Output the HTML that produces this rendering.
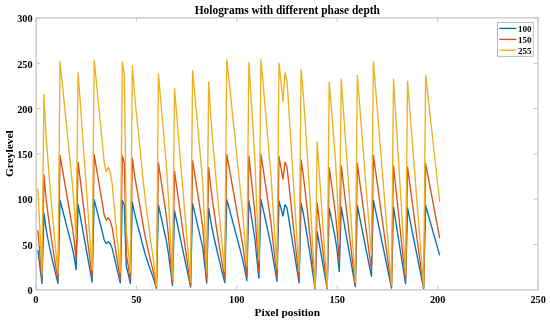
<!DOCTYPE html>
<html><head><meta charset="utf-8"><style>
html,body{margin:0;padding:0;background:#fff;}
body{width:550px;height:324px;overflow:hidden;}
svg{display:block;}
text{font-family:"Liberation Serif",serif;font-weight:bold;fill:#000;filter:grayscale(1);}
</style></head><body>
<svg width="550" height="324" viewBox="0 0 550 324">
<rect x="0" y="0" width="550" height="324" fill="#fff"/>
<g fill="none" stroke-linejoin="round" stroke-linecap="butt" stroke-width="1.35">
<path stroke="#0072BD" d="M37.91,250.12 L39.92,266.43 L41.93,283.46 L43.94,213.15 L45.95,228.37 L47.95,239.25 L49.96,249.03 L51.97,258.27 L53.98,266.97 L55.99,275.39 L58.00,283.46 L60.01,200.20 L62.02,207.99 L64.03,215.78 L66.03,223.57 L68.04,231.36 L70.05,239.15 L72.06,246.95 L74.07,256.28 L76.08,269.60 L78.09,204.73 L80.10,215.33 L82.11,226.38 L84.12,237.52 L86.12,248.67 L88.13,259.81 L90.14,270.86 L92.15,282.01 L94.16,199.65 L96.17,207.63 L98.18,215.60 L100.19,223.57 L102.20,231.63 L104.21,239.97 L106.22,243.50 L108.22,241.78 L110.23,243.68 L112.24,248.58 L114.25,257.18 L116.26,265.79 L118.27,274.40 L120.28,282.91 L122.29,200.47 L124.30,205.27 L126.31,266.33 L128.31,274.40 L130.32,283.28 L132.33,202.01 L134.34,212.16 L136.35,220.49 L138.36,228.19 L140.37,235.53 L142.38,244.05 L144.39,251.30 L146.39,258.09 L148.40,263.98 L150.41,270.05 L152.42,275.30 L154.43,281.46 L156.44,288.35 L158.45,205.27 L160.46,214.24 L162.47,223.21 L164.48,232.27 L166.48,241.42 L168.49,254.01 L170.50,269.87 L172.51,285.54 L174.52,210.89 L176.53,220.40 L178.54,229.91 L180.55,239.43 L182.56,248.94 L184.57,258.36 L186.57,267.87 L188.58,277.39 L190.59,286.90 L192.60,203.73 L194.61,212.16 L196.62,220.94 L198.63,229.64 L200.64,238.43 L202.65,247.22 L204.66,264.43 L206.66,283.19 L208.67,208.26 L210.68,220.94 L212.69,231.09 L214.70,240.51 L216.71,249.48 L218.72,258.09 L220.73,266.43 L222.74,274.58 L224.75,282.55 L226.75,199.56 L228.76,206.72 L230.77,214.33 L232.78,221.94 L234.79,229.55 L236.80,237.16 L238.81,244.77 L240.82,252.38 L242.83,260.36 L244.84,269.87 L246.84,280.74 L248.85,200.65 L250.86,213.06 L252.87,225.93 L254.88,238.79 L256.89,259.00 L258.90,278.20 L260.91,199.47 L262.92,208.08 L264.93,217.32 L266.94,226.56 L268.94,235.80 L270.95,245.04 L272.96,257.46 L274.97,269.51 L276.98,281.46 L278.99,200.92 L281.00,208.44 L283.01,215.96 L285.02,204.64 L287.02,208.08 L289.03,220.49 L291.04,232.99 L293.05,245.41 L295.06,257.82 L297.07,270.32 L299.08,282.73 L301.09,203.28 L303.10,212.43 L305.11,223.66 L307.11,235.71 L309.12,248.49 L311.13,261.62 L313.14,275.30 L315.15,289.26 L317.16,231.73 L319.17,243.23 L321.18,254.65 L323.19,266.15 L325.20,277.57 L327.20,289.08 L329.21,208.26 L331.22,217.95 L333.23,227.92 L335.24,237.89 L337.25,251.75 L339.26,271.68 L341.27,207.17 L343.28,218.50 L345.29,229.91 L347.29,241.24 L349.30,252.65 L351.31,263.98 L353.32,275.39 L355.33,286.72 L357.34,205.72 L359.35,215.78 L361.36,225.84 L363.37,235.89 L365.38,246.04 L367.38,256.10 L369.39,266.15 L371.40,276.21 L373.41,200.20 L375.42,209.98 L377.43,219.68 L379.44,229.46 L381.45,239.25 L383.46,248.94 L385.47,258.72 L387.47,268.51 L389.48,278.20 L391.49,287.99 L393.50,207.17 L395.51,219.95 L397.52,232.72 L399.53,245.50 L401.54,258.27 L403.55,271.05 L405.56,283.82 L407.56,207.99 L409.57,218.04 L411.58,228.19 L413.59,238.25 L415.60,248.31 L417.61,258.45 L419.62,268.51 L421.63,278.66 L423.64,288.71 L425.65,205.63 L427.65,212.70 L429.66,219.86 L431.67,226.92 L433.68,234.08 L435.69,241.15 L437.70,248.31 L439.71,255.37"/>
<path stroke="#D95319" d="M37.91,230.28 L39.92,254.74 L41.93,280.29 L43.94,174.83 L45.95,197.66 L47.95,213.97 L49.96,228.65 L51.97,242.51 L53.98,255.55 L55.99,268.19 L58.00,280.29 L60.01,155.39 L62.02,167.08 L64.03,178.77 L66.03,190.46 L68.04,202.14 L70.05,213.83 L72.06,225.52 L74.07,239.52 L76.08,259.49 L78.09,162.19 L80.10,178.09 L82.11,194.67 L84.12,211.39 L86.12,228.10 L88.13,244.82 L90.14,261.40 L92.15,278.11 L94.16,154.58 L96.17,166.54 L98.18,178.50 L100.19,190.46 L102.20,202.55 L104.21,215.06 L106.22,220.36 L108.22,217.77 L110.23,220.63 L112.24,227.97 L114.25,240.88 L116.26,253.79 L118.27,266.70 L120.28,279.47 L122.29,155.80 L124.30,163.01 L126.31,254.60 L128.31,266.70 L130.32,280.02 L132.33,158.11 L134.34,173.33 L136.35,185.84 L138.36,197.39 L140.37,208.40 L142.38,221.17 L144.39,232.04 L146.39,242.24 L148.40,251.07 L150.41,260.17 L152.42,268.06 L154.43,277.30 L156.44,287.63 L158.45,163.01 L160.46,176.46 L162.47,189.91 L164.48,203.50 L166.48,217.23 L168.49,236.12 L170.50,259.90 L172.51,283.41 L174.52,171.43 L176.53,185.70 L178.54,199.97 L180.55,214.24 L182.56,228.51 L184.57,242.64 L186.57,256.91 L188.58,271.18 L190.59,285.45 L192.60,160.70 L194.61,173.33 L196.62,186.52 L198.63,199.56 L200.64,212.74 L202.65,225.93 L204.66,251.75 L206.66,279.88 L208.67,167.49 L210.68,186.52 L212.69,201.74 L214.70,215.87 L216.71,229.32 L218.72,242.24 L220.73,254.74 L222.74,266.97 L224.75,278.93 L226.75,154.44 L228.76,165.18 L230.77,176.60 L232.78,188.01 L234.79,199.43 L236.80,210.84 L238.81,222.26 L240.82,233.67 L242.83,245.63 L244.84,259.90 L246.84,276.21 L248.85,156.07 L250.86,174.69 L252.87,193.99 L254.88,213.29 L256.89,243.59 L258.90,272.40 L260.91,154.31 L262.92,167.22 L264.93,181.08 L266.94,194.94 L268.94,208.80 L270.95,222.67 L272.96,241.28 L274.97,259.36 L276.98,277.30 L278.99,156.48 L281.00,167.76 L283.01,179.04 L285.02,162.05 L287.02,167.22 L289.03,185.84 L291.04,204.59 L293.05,223.21 L295.06,241.83 L297.07,260.58 L299.08,279.20 L301.09,160.02 L303.10,173.74 L305.11,190.59 L307.11,208.67 L309.12,227.83 L311.13,247.54 L313.14,268.06 L315.15,288.98 L317.16,202.69 L319.17,219.95 L321.18,237.07 L323.19,254.33 L325.20,271.45 L327.20,288.71 L329.21,167.49 L331.22,182.03 L333.23,196.98 L335.24,211.93 L337.25,232.72 L339.26,262.62 L341.27,165.86 L343.28,182.85 L345.29,199.97 L347.29,216.96 L349.30,234.08 L351.31,251.07 L353.32,268.19 L355.33,285.18 L357.34,163.68 L359.35,178.77 L361.36,193.85 L363.37,208.94 L365.38,224.16 L367.38,239.25 L369.39,254.33 L371.40,269.42 L373.41,155.39 L375.42,170.07 L377.43,184.61 L379.44,199.29 L381.45,213.97 L383.46,228.51 L385.47,243.19 L387.47,257.86 L389.48,272.40 L391.49,287.08 L393.50,165.86 L395.51,185.02 L397.52,204.18 L399.53,223.34 L401.54,242.51 L403.55,261.67 L405.56,280.83 L407.56,167.08 L409.57,182.17 L411.58,197.39 L413.59,212.47 L415.60,227.56 L417.61,242.78 L419.62,257.86 L421.63,273.08 L423.64,288.17 L425.65,163.55 L427.65,174.15 L429.66,184.89 L431.67,195.49 L433.68,206.22 L435.69,216.82 L437.70,227.56 L439.71,238.16"/>
<path stroke="#EDB120" d="M37.91,188.61 L39.92,230.19 L41.93,273.63 L43.94,94.35 L45.95,133.16 L47.95,160.89 L49.96,185.84 L51.97,209.40 L53.98,231.58 L55.99,253.07 L58.00,273.63 L60.01,61.31 L62.02,81.18 L64.03,101.05 L66.03,120.92 L68.04,140.79 L70.05,160.65 L72.06,180.52 L74.07,204.32 L76.08,238.28 L78.09,72.86 L80.10,99.89 L82.11,128.08 L84.12,156.50 L86.12,184.91 L88.13,213.33 L90.14,241.51 L92.15,269.93 L94.16,59.93 L96.17,80.26 L98.18,100.59 L100.19,120.92 L102.20,141.48 L104.21,162.73 L106.22,171.74 L108.22,167.35 L110.23,172.21 L112.24,184.68 L114.25,206.63 L116.26,228.58 L118.27,250.52 L120.28,272.24 L122.29,62.00 L124.30,74.25 L126.31,229.96 L128.31,250.52 L130.32,273.17 L132.33,65.93 L134.34,91.81 L136.35,113.06 L138.36,132.70 L140.37,151.41 L142.38,173.13 L144.39,191.61 L146.39,208.94 L148.40,223.96 L150.41,239.44 L152.42,252.84 L154.43,268.55 L156.44,286.10 L158.45,74.25 L160.46,97.12 L162.47,119.99 L164.48,143.10 L166.48,166.43 L168.49,198.54 L170.50,238.97 L172.51,278.94 L174.52,88.57 L176.53,112.83 L178.54,137.09 L180.55,161.35 L182.56,185.61 L184.57,209.63 L186.57,233.89 L188.58,258.15 L190.59,282.41 L192.60,70.32 L194.61,91.81 L196.62,114.22 L198.63,136.40 L200.64,158.81 L202.65,181.22 L204.66,225.11 L206.66,272.93 L208.67,81.87 L210.68,114.22 L212.69,140.09 L214.70,164.12 L216.71,186.99 L218.72,208.94 L220.73,230.19 L222.74,250.99 L224.75,271.32 L226.75,59.69 L228.76,77.95 L230.77,97.35 L232.78,116.76 L234.79,136.17 L236.80,155.57 L238.81,174.98 L240.82,194.38 L242.83,214.72 L244.84,238.97 L246.84,266.70 L248.85,62.47 L250.86,94.12 L252.87,126.92 L254.88,159.73 L256.89,211.25 L258.90,260.23 L260.91,59.46 L262.92,81.41 L264.93,104.98 L266.94,128.54 L268.94,152.11 L270.95,175.67 L272.96,207.32 L274.97,238.05 L276.98,268.55 L278.99,63.16 L281.00,82.34 L283.01,101.51 L285.02,72.63 L287.02,81.41 L289.03,113.06 L291.04,144.94 L293.05,176.60 L295.06,208.25 L297.07,240.13 L299.08,271.78 L301.09,69.17 L303.10,92.50 L305.11,121.15 L307.11,151.88 L309.12,184.45 L311.13,217.95 L313.14,252.84 L315.15,288.41 L317.16,141.71 L319.17,171.05 L321.18,200.16 L323.19,229.50 L325.20,258.61 L327.20,287.95 L329.21,81.87 L331.22,106.59 L333.23,132.01 L335.24,157.42 L337.25,192.77 L339.26,243.59 L341.27,79.10 L343.28,107.98 L345.29,137.09 L347.29,165.97 L349.30,195.08 L351.31,223.96 L353.32,253.07 L355.33,281.94 L357.34,75.40 L359.35,101.05 L361.36,126.69 L363.37,152.34 L365.38,178.21 L367.38,203.86 L369.39,229.50 L371.40,255.15 L373.41,61.31 L375.42,86.26 L377.43,110.98 L379.44,135.93 L381.45,160.89 L383.46,185.61 L385.47,210.56 L387.47,235.51 L389.48,260.23 L391.49,285.18 L393.50,79.10 L395.51,111.68 L397.52,144.25 L399.53,176.83 L401.54,209.40 L403.55,241.98 L405.56,274.55 L407.56,81.18 L409.57,106.82 L411.58,132.70 L413.59,158.34 L415.60,183.99 L417.61,209.86 L419.62,235.51 L421.63,261.38 L423.64,287.03 L425.65,75.17 L427.65,93.19 L429.66,111.44 L431.67,129.47 L433.68,147.72 L435.69,165.74 L437.70,183.99 L439.71,202.01"/>
</g>
<rect x="36.2" y="17.8" width="501.9" height="272.0" fill="none" stroke="#c6c6c6" stroke-width="1.3"/>
<path d="M35.90,289.8 V285.3 M35.90,17.8 V22.3 M136.35,289.8 V285.3 M136.35,17.8 V22.3 M236.80,289.8 V285.3 M236.80,17.8 V22.3 M337.25,289.8 V285.3 M337.25,17.8 V22.3 M437.70,289.8 V285.3 M437.70,17.8 V22.3 M538.15,289.8 V285.3 M538.15,17.8 V22.3 M36.2,289.80 H40.7 M538.1,289.80 H533.6 M36.2,244.50 H40.7 M538.1,244.50 H533.6 M36.2,199.20 H40.7 M538.1,199.20 H533.6 M36.2,153.90 H40.7 M538.1,153.90 H533.6 M36.2,108.60 H40.7 M538.1,108.60 H533.6 M36.2,63.30 H40.7 M538.1,63.30 H533.6 M36.2,18.00 H40.7 M538.1,18.00 H533.6" stroke="#c6c6c6" stroke-width="1" fill="none"/>
<text x="35.90" y="303" font-size="10.3" text-anchor="middle">0</text>
<text x="136.35" y="303" font-size="10.3" text-anchor="middle">50</text>
<text x="236.80" y="303" font-size="10.3" text-anchor="middle">100</text>
<text x="337.25" y="303" font-size="10.3" text-anchor="middle">150</text>
<text x="437.70" y="303" font-size="10.3" text-anchor="middle">200</text>
<text x="538.15" y="303" font-size="10.3" text-anchor="middle">250</text>
<text x="32.6" y="294.00" font-size="10.3" text-anchor="end">0</text>
<text x="32.6" y="248.70" font-size="10.3" text-anchor="end">50</text>
<text x="32.6" y="203.40" font-size="10.3" text-anchor="end">100</text>
<text x="32.6" y="158.10" font-size="10.3" text-anchor="end">150</text>
<text x="32.6" y="112.80" font-size="10.3" text-anchor="end">200</text>
<text x="32.6" y="67.50" font-size="10.3" text-anchor="end">250</text>
<text x="32.6" y="22.20" font-size="10.3" text-anchor="end">300</text>
<text x="287.3" y="316.0" font-size="11.4" text-anchor="middle">Pixel position</text>
<text transform="translate(13.3,153.7) rotate(-90)" font-size="11.4" text-anchor="middle">Greylevel</text>
<text x="287.3" y="13.7" font-size="11.45" text-anchor="middle">Holograms with different phase depth</text>
<rect x="497.4" y="22.5" width="35.8" height="33.8" fill="#fff" stroke="#a8a8a8" stroke-width="0.8"/>
<path d="M499.3,28.4 H516.3" stroke="#0072BD" stroke-width="1.35"/>
<text x="518.1" y="31.90" font-size="9">100</text>
<path d="M499.3,39.4 H516.3" stroke="#D95319" stroke-width="1.35"/>
<text x="518.1" y="42.90" font-size="9">150</text>
<path d="M499.3,50.2 H516.3" stroke="#EDB120" stroke-width="1.35"/>
<text x="518.1" y="53.70" font-size="9">255</text>
</svg>
</body></html>
